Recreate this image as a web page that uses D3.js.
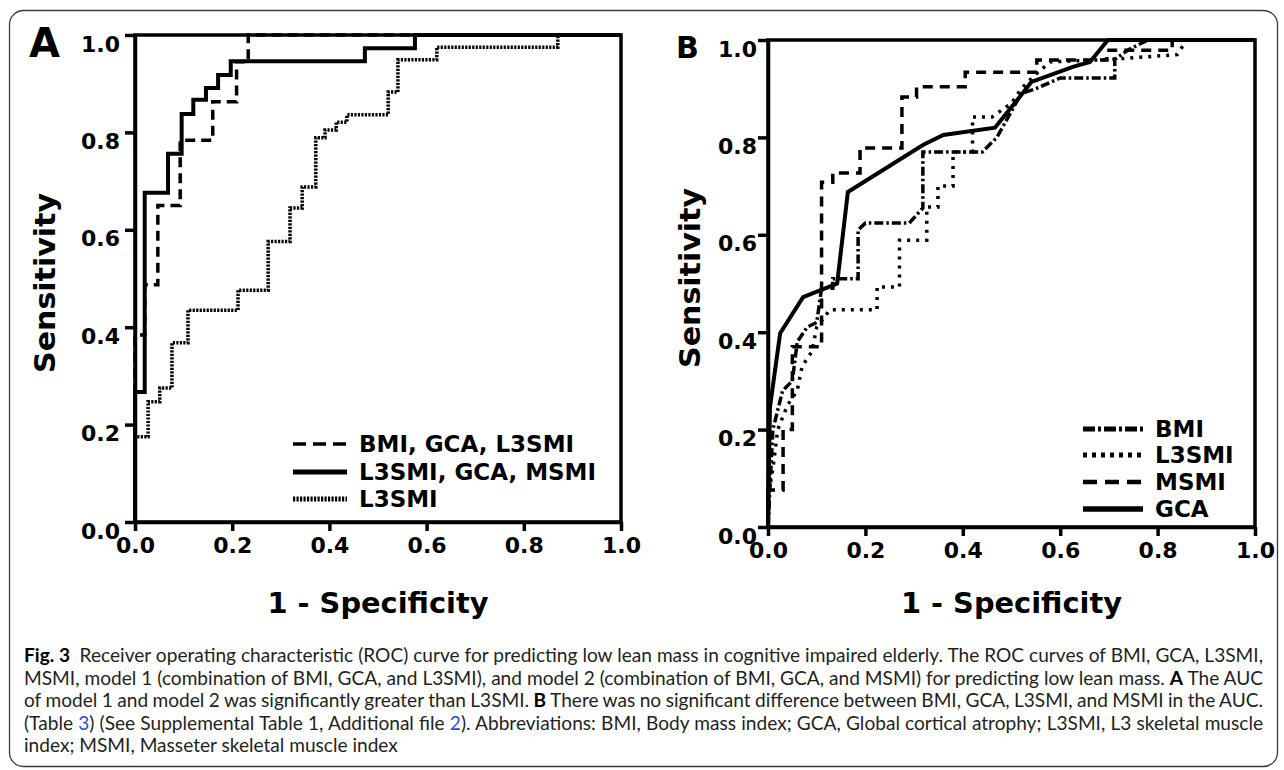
<!DOCTYPE html>
<html>
<head>
<meta charset="utf-8">
<script src="https://cdn.jsdelivr.net/npm/d3@7"></script>
<style>
  body { margin: 0; background: #fff; }
  svg { display: block; }
</style>
</head>
<body>
<svg id="fig" width="1284" height="770"></svg>
<script>
// ---- data ----
const tickValues = [0, 0.2, 0.4, 0.6, 0.8, 1.0];

// panel A: step ROC curves, points = top of each vertical rise [fpr, tpr]
const aModel1 = [[0,0],[0,0.384],[0.02,0.487],[0.047,0.65],[0.093,0.784],[0.16,0.863],[0.209,0.945],[0.233,1],[1,1]];
const aModel2 = [[0,0],[0,0.267],[0.02,0.676],[0.068,0.756],[0.096,0.838],[0.12,0.867],[0.146,0.891],[0.171,0.918],[0.197,0.946],[0.473,0.973],[0.576,1],[1,1]];
const aL3smi = [[0,0],[0,0.175],[0.027,0.247],[0.051,0.275],[0.076,0.368],[0.109,0.435],[0.212,0.476],[0.274,0.576],[0.319,0.645],[0.344,0.688],[0.372,0.789],[0.391,0.805],[0.414,0.821],[0.436,0.836],[0.521,0.883],[0.541,0.949],[0.621,0.975],[0.87,1],[1,1]];
const aLabels = ['BMI, GCA, L3SMI', 'L3SMI, GCA, MSMI', 'L3SMI'];

// panel B: curves traced point by point [fpr, tpr]
const bBmi = [[0,0],[0.004,0.08],[0.01,0.2],[0.03,0.28],[0.05,0.3],[0.06,0.38],[0.08,0.41],[0.1,0.42],[0.11,0.49],[0.133,0.49],[0.133,0.51],[0.185,0.51],[0.185,0.61],[0.2,0.624],[0.29,0.624],[0.318,0.655],[0.318,0.77],[0.44,0.77],[0.47,0.8],[0.52,0.89],[0.55,0.9],[0.6,0.922],[0.712,0.922],[0.712,0.96],[0.74,0.98],[0.78,1],[1,1]];
const bL3smi = [[0,0],[0,0.06],[0.01,0.12],[0.02,0.2],[0.04,0.25],[0.06,0.28],[0.07,0.33],[0.09,0.36],[0.1,0.41],[0.127,0.446],[0.224,0.446],[0.224,0.493],[0.27,0.493],[0.27,0.589],[0.326,0.589],[0.326,0.657],[0.349,0.657],[0.349,0.7],[0.38,0.7],[0.38,0.77],[0.42,0.77],[0.42,0.842],[0.46,0.842],[0.5,0.87],[0.52,0.9],[0.55,0.93],[0.58,0.955],[0.7,0.96],[0.84,0.97],[0.86,1],[1,1]];
const bMsmi = [[0,0],[0,0.076],[0.031,0.076],[0.031,0.2],[0.05,0.2],[0.05,0.37],[0.11,0.37],[0.11,0.708],[0.133,0.708],[0.133,0.727],[0.189,0.727],[0.189,0.778],[0.275,0.778],[0.275,0.883],[0.305,0.883],[0.305,0.904],[0.405,0.904],[0.405,0.934],[0.552,0.934],[0.552,0.959],[0.696,0.959],[0.696,0.979],[0.83,0.979],[0.83,1],[1,1]];
const bGca = [[0,0],[0.004,0.246],[0.025,0.398],[0.072,0.472],[0.142,0.5],[0.164,0.688],[0.319,0.785],[0.36,0.805],[0.466,0.82],[0.52,0.887],[0.541,0.914],[0.626,0.945],[0.661,0.955],[0.698,1],[1,1]];
const bLabels = ['BMI', 'L3SMI', 'MSMI', 'GCA'];

// caption lines: [text, kind]
const captionLines = [
  [['Fig. 3', 'b'], ['\u2002Receiver operating characteristic (ROC) curve for predicting low lean mass in cognitive impaired elderly. The ROC curves of BMI, GCA, L3SMI,', 'n']],
  [['MSMI, model 1 (combination of BMI, GCA, and L3SMI), and model 2 (combination of BMI, GCA, and MSMI) for predicting low lean mass. ', 'n'], ['A', 'b'], [' The AUC', 'n']],
  [['of model 1 and model 2 was significantly greater than L3SMI. ', 'n'], ['B', 'b'], [' There was no significant difference between BMI, GCA, L3SMI, and MSMI in the AUC.', 'n']],
  [['(Table ', 'n'], ['3', 'l'], [') (See Supplemental Table 1, Additional file ', 'n'], ['2', 'l'], ['). Abbreviations: BMI, Body mass index; GCA, Global cortical atrophy; L3SMI, L3 skeletal muscle', 'n']],
  [['index; MSMI, Masseter skeletal muscle index', 'n']]
];

const svg = d3.select('#fig');
const boldFont = 'DejaVu Sans, Verdana, sans-serif';

// outer rounded frame
svg.append('rect')
  .attr('x', 9.5).attr('y', 10.5)
  .attr('width', 1268).attr('height', 756)
  .attr('rx', 14)
  .attr('fill', 'none')
  .attr('stroke', '#3a3a3a')
  .attr('stroke-width', 1.3);

function drawPanel(cfg) {
  const x = d3.scaleLinear().domain([0, 1]).range([cfg.left, cfg.right]);
  const y = d3.scaleLinear().domain([0, 1]).range([cfg.bottom, cfg.top]);
  const g = svg.append('g');

  // box
  g.append('rect')
    .attr('x', x(0)).attr('y', y(1))
    .attr('width', x(1) - x(0)).attr('height', y(0) - y(1))
    .attr('fill', 'none').attr('stroke', '#000').attr('stroke-width', 3.5);

  // curves
  cfg.series.forEach((s) => {
    const line = d3.line()
      .x((d) => x(d[0]))
      .y((d) => y(d[1]))
      .curve(s.curve);
    g.append('path')
      .attr('d', line(s.data))
      .attr('fill', 'none')
      .attr('stroke', '#000')
      .attr('stroke-width', s.width)
      .attr('stroke-dasharray', s.dash)
      .attr('stroke-linejoin', 'miter');
  });

  // axes
  const fmt = d3.format('.1f');
  const yAxis = g.append('g')
    .attr('transform', `translate(${x(0)},0)`)
    .call(d3.axisLeft(y).tickValues(tickValues).tickFormat(fmt).tickSize(10).tickSizeOuter(0).tickPadding(cfg.yPad));
  const xAxis = g.append('g')
    .attr('transform', `translate(0,${y(0)})`)
    .call(d3.axisBottom(x).tickValues(tickValues).tickFormat(fmt).tickSize(9).tickSizeOuter(0).tickPadding(4));

  [yAxis, xAxis].forEach((ax) => {
    ax.select('.domain').attr('stroke', '#000').attr('stroke-width', 3.5);
    ax.selectAll('.tick line').attr('stroke', '#000').attr('stroke-width', 3.5);
    ax.selectAll('text')
      .attr('fill', '#000')
      .style('font-family', boldFont)
      .style('font-weight', 'bold')
      .style('font-size', '22px');
  });
  yAxis.selectAll('text').attr('dy', '0.32em').attr('y', 9);
  xAxis.selectAll('text').attr('dy', '0.71em').attr('y', 15);

  // axis titles
  g.append('text')
    .attr('transform', `translate(${cfg.yTitleX},${cfg.yTitleY}) rotate(-90)`)
    .attr('text-anchor', 'middle')
    .attr('dy', '0.35em')
    .attr('textLength', 180).attr('lengthAdjust', 'spacingAndGlyphs')
    .style('font-family', boldFont).style('font-weight', 'bold').style('font-size', '28px')
    .text('Sensitivity');
  g.append('text')
    .attr('x', (x(0) + x(1)) / 2).attr('y', 613)
    .attr('text-anchor', 'middle')
    .attr('textLength', 221).attr('lengthAdjust', 'spacingAndGlyphs')
    .style('font-family', boldFont).style('font-weight', 'bold').style('font-size', '28px')
    .text('1 - Specificity');

  // panel letter
  g.append('text')
    .attr('x', cfg.letterX).attr('y', cfg.letterY)
    .style('font-family', boldFont).style('font-weight', 'bold').style('font-size', cfg.letterSize + 'px')
    .text(cfg.letter);

  // legend
  cfg.series.forEach((s, i) => {
    const ly = cfg.legendY[i];
    g.append('line')
      .attr('x1', cfg.legendX1).attr('x2', cfg.legendX2)
      .attr('y1', ly).attr('y2', ly)
      .attr('stroke', '#000')
      .attr('stroke-width', s.legendWidth || s.width)
      .attr('stroke-dasharray', s.legendDash || s.dash);
    g.append('text')
      .attr('x', cfg.legendX2 + 12).attr('y', ly)
      .attr('dy', '0.36em')
      .style('font-family', boldFont).style('font-weight', 'bold').style('font-size', '23px')
      .text(s.label);
  });
}

drawPanel({
  left: 135, right: 621, top: 35, bottom: 522,
  yPad: 5, yTitleX: 45, yTitleY: 283,
  letter: 'A', letterX: 29, letterY: 57, letterSize: 40,
  legendX1: 293, legendX2: 347, legendY: [444, 472, 499],
  series: [
    { data: aModel1, curve: d3.curveStepAfter, dash: '10,6', width: 3.5, legendDash: '13,7', label: aLabels[0] },
    { data: aModel2, curve: d3.curveStepAfter, dash: null, width: 4, legendWidth: 5, label: aLabels[1] },
    { data: aL3smi, curve: d3.curveStepAfter, dash: '2.2,1.3', width: 3.5, legendWidth: 5, label: aLabels[2] }
  ]
});

drawPanel({
  left: 768, right: 1255, top: 40, bottom: 527,
  yPad: 1, yTitleX: 690, yTitleY: 278,
  letter: 'B', letterX: 676, letterY: 58, letterSize: 30,
  legendX1: 1083, legendX2: 1143, legendY: [429, 455, 482, 509],
  series: [
    { data: bBmi, curve: d3.curveLinear, dash: '9,3,2.5,3', width: 3.5, legendDash: '12,3,3,3', legendWidth: 5, label: bLabels[0] },
    { data: bL3smi, curve: d3.curveLinear, dash: '3,6', width: 3.5, legendDash: '4,5', legendWidth: 5, label: bLabels[1] },
    { data: bMsmi, curve: d3.curveLinear, dash: '10,7', width: 3.5, legendDash: '14,8', legendWidth: 4.5, label: bLabels[2] },
    { data: bGca, curve: d3.curveLinear, dash: null, width: 4, legendWidth: 5.5, label: bLabels[3] }
  ]
});

// caption, justified like the journal layout
const capLeft = 24, capRight = 1263, lastLineRight = 398;
const capBase = 662, capStep = 22.5;
let capSize = 17.5;
const capNodes = captionLines.map((segs, i) => {
  const t = svg.append('text')
    .attr('x', capLeft).attr('y', capBase + i * capStep)
    .attr('fill', '#231f20')
    .style('font-family', 'Lato, "Open Sans", sans-serif')
    .style('font-size', capSize + 'px');
  segs.forEach(([txt, kind]) => {
    const ts = t.append('tspan').text(txt);
    if (kind === 'b') ts.style('font-weight', 'bold').attr('fill', '#000');
    if (kind === 'l') ts.attr('fill', '#2b4fd6');
  });
  return t;
});

// size the caption font so the short last line ends where it does in the figure
const lastNatural = capNodes[capNodes.length - 1].node().getComputedTextLength();
capSize = capSize * (lastLineRight - capLeft) / lastNatural;
capNodes.forEach((t) => t.style('font-size', capSize + 'px'));

capNodes.forEach((t, i) => {
  if (i === captionLines.length - 1) return;
  const natural = t.node().getComputedTextLength();
  const txt = captionLines[i].map((s) => s[0]).join('');
  const spaces = (txt.match(/ /g) || []).length;
  t.style('word-spacing', ((capRight - capLeft - natural) / spaces) + 'px');
});
</script>
</body>
</html>
